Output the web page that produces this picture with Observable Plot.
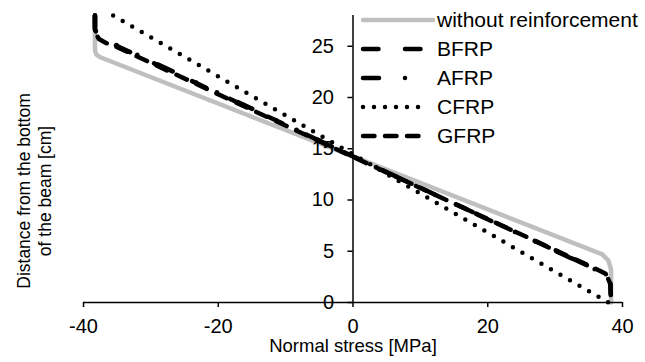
<!DOCTYPE html>
<html><head><meta charset="utf-8">
<script src="https://cdn.jsdelivr.net/npm/d3@7"></script>
<script src="https://cdn.jsdelivr.net/npm/@observablehq/plot@0.6"></script>
<style>
body{margin:0;background:#fff;font-family:"Liberation Sans",Arial,sans-serif;}
#wrap{position:relative;width:645px;height:362px;overflow:hidden;}
#legend{position:absolute;left:360px;top:5px;}
.row{display:flex;align-items:center;height:29px;font-size:21px;color:#000;white-space:nowrap;}
.row svg{width:76px;height:14px;margin-right:1px;flex:none;}
</style></head><body><div id="wrap"></div>
<script>
// ---- data ----
const xTicks = [-40, -20, 0, 20, 40];
const yTicks = [0, 5, 10, 15, 20, 25];
const seriesNames = ["without reinforcement", "BFRP", "AFRP", "CFRP", "GFRP"];

const stressPlain = [-38.3, -38.3, -38.1, -37.6, 0, 37.0, 37.9, 38.3, 38.3];
const depthPlain  = [28, 24.6, 24.2, 23.95, 14.25, 4.7, 4.1, 3.2, 0];

const stressBFRP = [-38.3, -38.3, -37.8, -36.8, -35.6, 0, 36.3, 37.6, 38.2, 38.3];
const depthBFRP  = [28, 26.6, 25.9, 25.5, 25.2, 14.25, 3.15, 2.7, 1.8, 0];

const stressAFRP = [-38.3, -38.3, -37.9, -36.9, -35.8, 0, 36.5, 37.7, 38.2, 38.3];
const depthAFRP  = [28, 26.7, 26.0, 25.6, 25.35, 14.25, 3.05, 2.6, 1.7, 0];

const stressCFRP = [-35.6, 0, 37.9];
const depthCFRP  = [28, 14.45, 0];

const stressGFRP = [-38.3, -38.3, -37.7, -36.6, -35.3, 0, 36.0, 37.5, 38.2, 38.3];
const depthGFRP  = [28, 26.4, 25.7, 25.3, 25.0, 14.2, 3.3, 2.8, 1.9, 0];

// ---- styles ----
const styles = [
  {stroke: "#bfbfbf", width: 4.5, dash: null, cap: "round"},
  {stroke: "#000", width: 4.5, dash: "15.5,26.5", cap: "round"},
  {stroke: "#000", width: 4.5, dash: "16,26,0,23,0,23", cap: "round"},
  {stroke: "#000", width: 4.5, dash: "0,11", cap: "round"},
  {stroke: "#000", width: 4.5, dash: "11.5,10.5", cap: "round"}
];
const series = [
  [stressPlain, depthPlain],
  [stressBFRP, depthBFRP],
  [stressAFRP, depthAFRP],
  [stressCFRP, depthCFRP],
  [stressGFRP, depthGFRP]
];
const rows = series.map(([xs, ys], i) => xs.map((x, j) => ({x, y: ys[j], name: seriesNames[i]})));

const font = "'Liberation Sans', Arial, sans-serif";

const lineMarks = rows.map((data, i) => Plot.line(data, {
  x: "x", y: "y",
  stroke: styles[i].stroke,
  strokeWidth: styles[i].width,
  strokeDasharray: styles[i].dash,
  strokeLinecap: styles[i].cap,
  strokeLinejoin: "round",
  curve: "linear"
}));

const chart = Plot.plot({
  width: 645, height: 362,
  marginLeft: 83, marginRight: 23, marginTop: 15, marginBottom: 60,
  style: {fontFamily: font, fontSize: "20px", color: "#000", background: "#fff"},
  x: {domain: [-40, 40]},
  y: {domain: [0, 28], axis: null},
  marks: [
    ...lineMarks,
    Plot.ruleY([0], {stroke: "#000", strokeWidth: 1.5}),
    Plot.ruleX([0], {stroke: "#000", strokeWidth: 1.5}),
    Plot.ruleY(yTicks, {x1: -0.75, x2: 0, stroke: "#000", strokeWidth: 1.5}),
    Plot.text(yTicks, {x: 0, y: d => d, text: d => String(d), textAnchor: "end", dx: -19, fontSize: 20, fill: "#000"}),
    Plot.axisX(xTicks, {tickSize: 5, tickPadding: 11, tickFormat: d => String(d), fontSize: 20, label: null, stroke: "#000", strokeWidth: 1.5, fill: "#000"}),
    Plot.text(["Normal stress [MPa]"], {frameAnchor: "bottom", dy: 49, fontSize: 18.5, fill: "#000"}),
    Plot.text(["Distance from the bottom\nof the beam [cm]"], {frameAnchor: "left", textAnchor: "middle", rotate: -90, dx: -50, dy: 32, fontSize: 17.5, lineHeight: 1.2, fill: "#000"})
  ]
});
const wrap = document.getElementById("wrap");
wrap.appendChild(chart);

// legend overlay
const legend = document.createElement("div");
legend.id = "legend";
seriesNames.forEach((name, i) => {
  const s = styles[i];
  const row = document.createElement("div");
  row.className = "row";
  const x2 = i === 0 ? 73 : 67;
  row.innerHTML = `<svg viewBox="0 0 76 14"><line x1="3" x2="${x2}" y1="7" y2="7" stroke="${s.stroke}" stroke-width="${s.width}" stroke-linecap="${s.cap}" ${s.dash ? `stroke-dasharray="${s.dash}"` : ""}/></svg><span>${name}</span>`;
  legend.appendChild(row);
});
wrap.appendChild(legend);
</script></body></html>
